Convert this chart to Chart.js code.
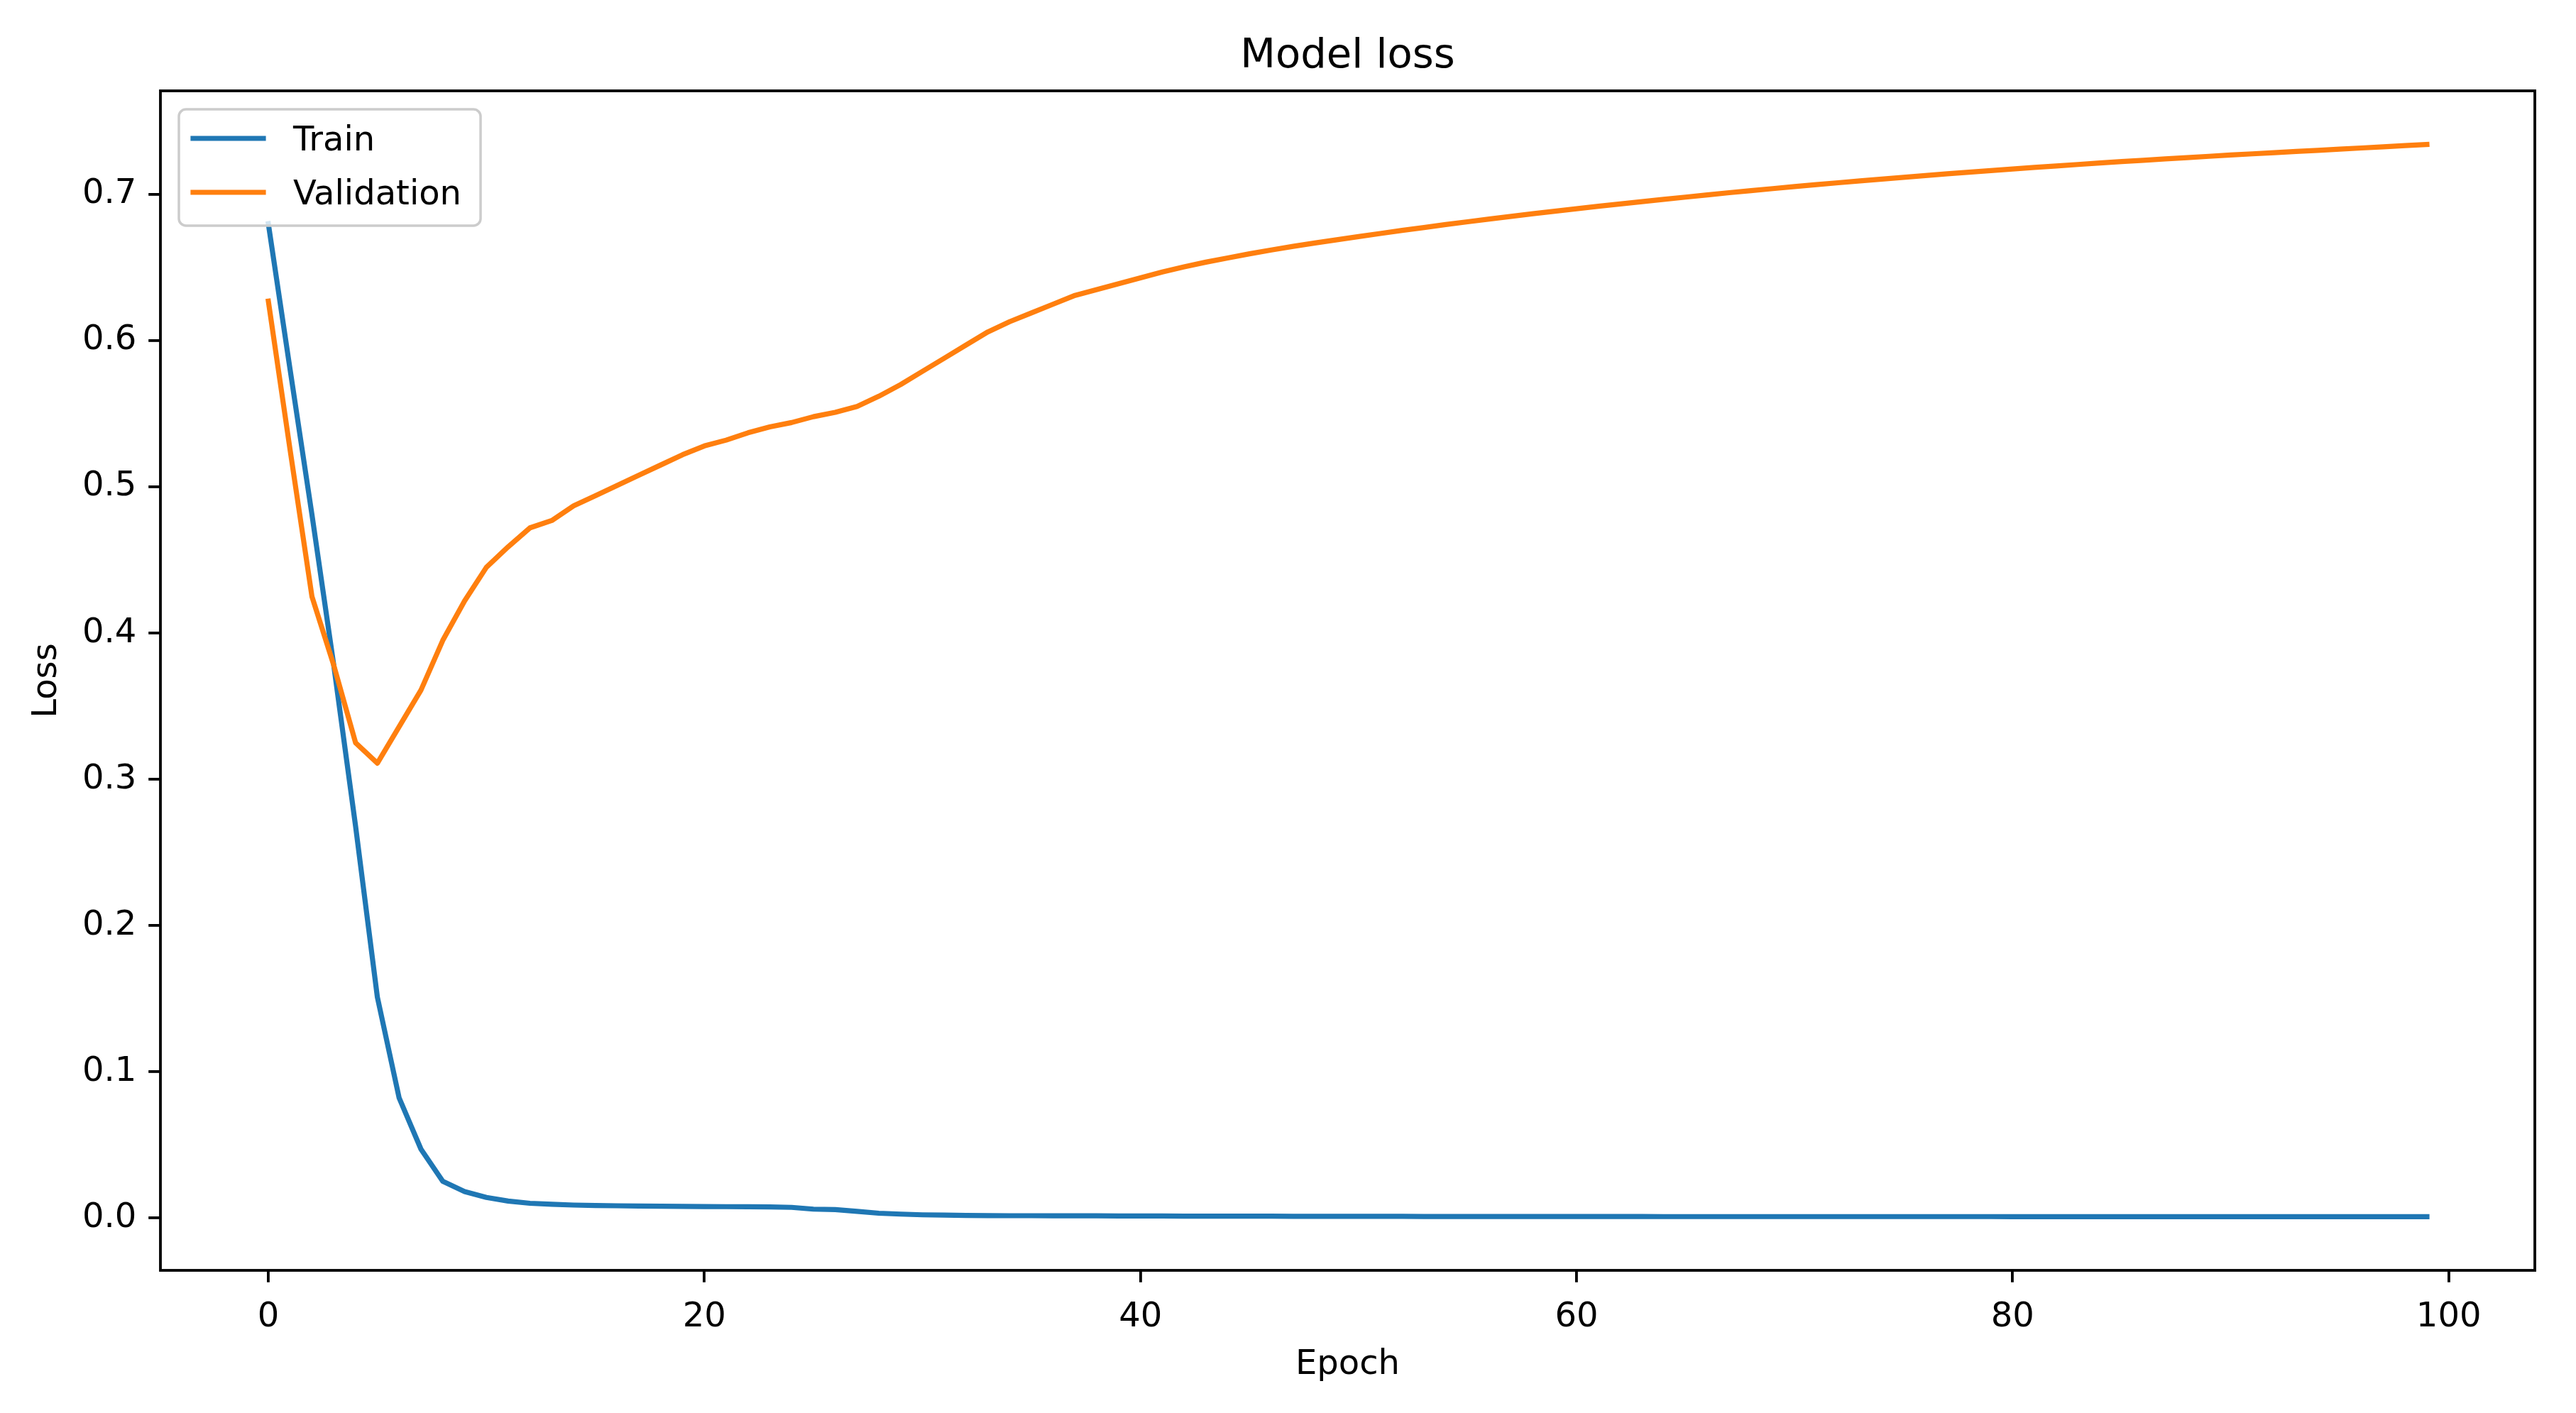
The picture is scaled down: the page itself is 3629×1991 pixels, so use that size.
<!DOCTYPE html>
<html>
<head>
<meta charset="utf-8">
<script src="https://cdn.jsdelivr.net/npm/chart.js@4.4.1/dist/chart.umd.min.js"></script>
<style>
html,body{margin:0;padding:0;background:#ffffff;}
#wrap{width:3629px;height:1991px;position:relative;}
</style>
</head>
<body>
<div id="wrap"><canvas id="c" width="3629" height="1991"></canvas></div>
<script>
const chartTitle = 'Model loss';
const xAxisTitle = 'Epoch';
const yAxisTitle = 'Loss';
const seriesNames = ['Train', 'Validation'];

const epochs = [0,1,2,3,4,5,6,7,8,9,10,11,12,13,14,15,16,17,18,19,
20,21,22,23,24,25,26,27,28,29,30,31,32,33,34,35,36,37,38,39,
40,41,42,43,44,45,46,47,48,49,50,51,52,53,54,55,56,57,58,59,
60,61,62,63,64,65,66,67,68,69,70,71,72,73,74,75,76,77,78,79,
80,81,82,83,84,85,86,87,88,89,90,91,92,93,94,95,96,97,98,99];

const trainLoss = [0.680,0.580,0.481,0.378,0.268,0.151,0.082,0.047,0.025,0.018,
0.0140,0.0115,0.0100,0.0093,0.0088,0.0085,0.0083,0.0081,0.0080,0.0079,
0.0078,0.0077,0.0076,0.0075,0.0072,0.0060,0.0057,0.0045,0.0032,0.0026,
0.0021,0.0019,0.0017,0.0016,0.0015,0.0015,0.0014,0.0014,0.0014,0.0013,
0.0013,0.0013,0.0012,0.0012,0.0012,0.0012,0.0012,0.0011,0.0011,0.0011,
0.0011,0.0011,0.0011,0.0010,0.0010,0.0010,0.0010,0.0010,0.0010,0.0010,
0.0010,0.0010,0.0010,0.0010,0.0009,0.0009,0.0009,0.0009,0.0009,0.0009,
0.0009,0.0009,0.0009,0.0009,0.0009,0.0009,0.0009,0.0009,0.0009,0.0009,
0.0008,0.0008,0.0008,0.0008,0.0008,0.0008,0.0008,0.0008,0.0008,0.0008,
0.0008,0.0008,0.0008,0.0008,0.0008,0.0008,0.0008,0.0008,0.0008,0.0008];

const valLoss = [0.627,0.525,0.425,0.378,0.325,0.311,0.336,0.361,0.395,0.422,
0.445,0.459,0.472,0.477,0.487,0.494,0.501,0.508,0.515,0.522,
0.528,0.532,0.537,0.541,0.544,0.548,0.551,0.555,0.562,0.570,
0.579,0.588,0.597,0.606,0.613,0.619,0.625,0.631,0.635,0.639,
0.6430,0.6470,0.6505,0.6537,0.6566,0.6594,0.6620,0.6645,0.6668,0.6690,
0.6712,0.6733,0.6754,0.6774,0.6794,0.6813,0.6832,0.6850,0.6868,0.6885,
0.6902,0.6919,0.6935,0.6951,0.6967,0.6982,0.6997,0.7012,0.7026,0.7040,
0.7054,0.7067,0.7080,0.7093,0.7105,0.7117,0.7129,0.7141,0.7152,0.7163,
0.7174,0.7185,0.7195,0.7205,0.7215,0.7225,0.7234,0.7243,0.7252,0.7261,
0.7270,0.7278,0.7286,0.7294,0.7302,0.7310,0.7318,0.7326,0.7334,0.7342];

const xTickValues = [0,20,40,60,80,100];
const xTickLabels = ['0','20','40','60','80','100'];
const yTickValues = [0.0,0.1,0.2,0.3,0.4,0.5,0.6,0.7];
const yTickLabels = ['0.0','0.1','0.2','0.3','0.4','0.5','0.6','0.7'];

// ---- styling ----
const PX = 4.8;             // pixels per point
const FONT = '"DejaVu Sans", "Liberation Sans", sans-serif';
const TICK_FS = 10 * PX;
const TITLE_FS = 12 * PX;
const LW_LINE = 1.5 * PX;
const LW_SPINE = 0.8 * PX;
const TICK_LEN = 3.5 * PX;

Chart.defaults.font.family = FONT;
Chart.defaults.color = '#000000';

// matplotlib-style autoscale margins (5%)
const allY = trainLoss.concat(valLoss);
const yMinD = Math.min(...allY), yMaxD = Math.max(...allY);
const yM = 0.05 * (yMaxD - yMinD);
const xMinD = Math.min(...epochs), xMaxD = Math.max(...epochs);
const xM = 0.05 * (xMaxD - xMinD);

function pts(ys){ return epochs.map((e,i)=>({x:e,y:ys[i]})); }

const framePlugin = {
  id: 'mplFrame',
  afterDatasetsDraw(chart){
    const {ctx, chartArea: ca} = chart;
    ctx.save();
    ctx.strokeStyle = '#000';
    ctx.lineWidth = LW_SPINE;
    ctx.lineJoin = 'miter';
    ctx.strokeRect(ca.left, ca.top, ca.right - ca.left, ca.bottom - ca.top);
    ctx.restore();
  }
};

const titlePlugin = {
  id: 'mplTitle',
  afterDraw(chart){
    const {ctx, chartArea: ca} = chart;
    ctx.save();
    ctx.font = `normal ${TITLE_FS}px ${FONT}`;
    ctx.fillStyle = '#000';
    ctx.textAlign = 'center';
    ctx.textBaseline = 'alphabetic';
    ctx.fillText(chartTitle, (ca.left + ca.right) / 2, ca.top - 6 * PX - 4);
    ctx.restore();
  }
};

function roundRectPath(ctx, x, y, w, h, r){
  ctx.beginPath();
  ctx.moveTo(x + r, y);
  ctx.lineTo(x + w - r, y);
  ctx.arcTo(x + w, y, x + w, y + r, r);
  ctx.lineTo(x + w, y + h - r);
  ctx.arcTo(x + w, y + h, x + w - r, y + h, r);
  ctx.lineTo(x + r, y + h);
  ctx.arcTo(x, y + h, x, y + h - r, r);
  ctx.lineTo(x, y + r);
  ctx.arcTo(x, y, x + r, y, r);
  ctx.closePath();
}

const legendPlugin = {
  id: 'mplLegend',
  afterDraw(chart){
    const {ctx, chartArea: ca} = chart;
    const ds = chart.data.datasets;
    ctx.save();
    ctx.font = `normal ${TICK_FS}px ${FONT}`;
    const tw = Math.max(...ds.map(d => ctx.measureText(d.label).width));
    const x0 = ca.left + 26, y0 = ca.top + 26;
    const textOff = 161;
    const w = textOff + tw + 27, h = 164;
    roundRectPath(ctx, x0, y0, w, h, 10);
    ctx.fillStyle = 'rgba(255,255,255,0.8)';
    ctx.fill();
    ctx.lineWidth = 3.5;
    ctx.strokeStyle = '#cccccc';
    ctx.stroke();
    ds.forEach((d, i) => {
      const cy = y0 + 41 + i * 76;
      ctx.beginPath();
      ctx.moveTo(x0 + 20, cy);
      ctx.lineTo(x0 + 119, cy);
      ctx.strokeStyle = d.borderColor;
      ctx.lineWidth = d.borderWidth;
      ctx.lineCap = 'square';
      ctx.stroke();
      ctx.fillStyle = '#000';
      ctx.textAlign = 'left';
      ctx.textBaseline = 'middle';
      ctx.fillText(d.label, x0 + textOff, cy + 5);
    });
    ctx.restore();
  }
};

new Chart(document.getElementById('c'), {
  type: 'line',
  data: {
    datasets: [
      { label: seriesNames[0], data: pts(trainLoss), borderColor: '#1f77b4', backgroundColor: '#1f77b4',
        borderWidth: LW_LINE, pointRadius: 0, tension: 0, fill: false, order: 1,
        borderJoinStyle: 'round', borderCapStyle: 'square' },
      { label: seriesNames[1], data: pts(valLoss), borderColor: '#ff7f0e', backgroundColor: '#ff7f0e',
        borderWidth: LW_LINE, pointRadius: 0, tension: 0, fill: false, order: 0,
        borderJoinStyle: 'round', borderCapStyle: 'square' }
    ]
  },
  options: {
    responsive: false,
    animation: false,
    devicePixelRatio: 1,
    layout: { padding: { top: 128, left: 0, right: 58, bottom: 0 } },
    plugins: {
      legend: { display: false },
      tooltip: { enabled: false },
      title: { display: false }
    },
    scales: {
      x: {
        type: 'linear',
        min: xMinD - xM,
        max: xMaxD + xM,
        afterBuildTicks: s => { s.ticks = xTickValues.map(v => ({value: v})); },
        afterFit: s => { s.height = 201; },
        ticks: {
          callback: (v) => xTickLabels[xTickValues.indexOf(v)] ?? '',
          font: { size: TICK_FS }, color: '#000', padding: TICK_LEN + 4, maxRotation: 0, autoSkip: false
        },
        grid: { display: true, drawOnChartArea: false, drawTicks: true, tickLength: TICK_LEN,
                tickWidth: LW_SPINE, tickColor: '#000', color: '#000', lineWidth: LW_SPINE },
        border: { display: false },
        title: { display: true, text: xAxisTitle, font: { size: TICK_FS }, color: '#000', padding: { top: 0, bottom: 39 } }
      },
      y: {
        type: 'linear',
        min: yMinD - yM,
        max: yMaxD + yM,
        afterBuildTicks: s => { s.ticks = yTickValues.map(v => ({value: v})); },
        afterFit: s => { s.width = 226; },
        ticks: {
          callback: (v) => { const i = yTickValues.findIndex(t => Math.abs(t - v) < 1e-9); return i >= 0 ? yTickLabels[i] : ''; },
          font: { size: TICK_FS }, color: '#000', padding: TICK_LEN, autoSkip: false
        },
        grid: { display: true, drawOnChartArea: false, drawTicks: true, tickLength: TICK_LEN,
                tickWidth: LW_SPINE, tickColor: '#000', color: '#000', lineWidth: LW_SPINE },
        border: { display: false },
        title: { display: true, text: yAxisTitle, font: { size: TICK_FS }, color: '#000', padding: { top: 38, bottom: 0 } }
      }
    }
  },
  plugins: [framePlugin, legendPlugin, titlePlugin]
});
</script>
</body>
</html>
